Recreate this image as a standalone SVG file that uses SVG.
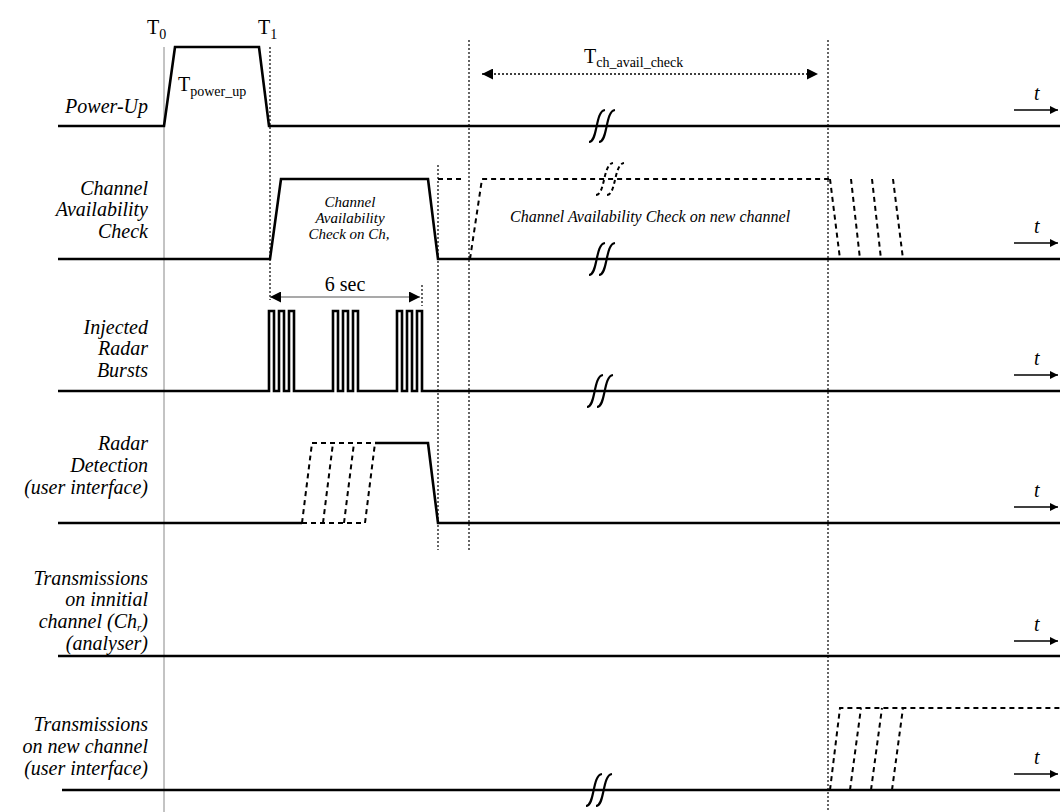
<svg xmlns="http://www.w3.org/2000/svg" width="1060" height="812" viewBox="0 0 1060 812">
<defs>
<marker id="ah" viewBox="0 0 10 10" refX="10" refY="5" markerWidth="10" markerHeight="8" markerUnits="userSpaceOnUse" orient="auto-start-reverse"><path d="M0,0 L10,5 L0,10 z" fill="#000"/></marker>
<marker id="ahb" viewBox="0 0 10 10" refX="10" refY="5" markerWidth="16" markerHeight="11" markerUnits="userSpaceOnUse" orient="auto-start-reverse"><path d="M0,0 L10,5 L0,10 z" fill="#000"/></marker>
<style>
.sig{fill:none;stroke:#000;stroke-width:2.6;stroke-linejoin:miter}
.dsh{fill:none;stroke:#000;stroke-width:2;stroke-dasharray:5,4}
.vdot{fill:none;stroke:#000;stroke-width:1.2;stroke-dasharray:2,2}
.brk{fill:none;stroke:#000;stroke-width:2.2}
.brkd{fill:none;stroke:#000;stroke-width:2;stroke-dasharray:4,3}
.lab{font-family:"Liberation Serif","Times New Roman",serif;font-style:italic;font-size:20px;text-anchor:end;fill:#000}
.in{font-family:"Liberation Serif","Times New Roman",serif;font-style:italic;font-size:15px;fill:#000}
.in2{font-family:"Liberation Serif","Times New Roman",serif;font-style:italic;font-size:16px;fill:#000}
.tm{font-family:"Liberation Serif","Times New Roman",serif;font-size:20px;fill:#000}
.t{font-family:"Liberation Serif","Times New Roman",serif;font-style:italic;font-size:20px;fill:#000}
.ax{stroke:#000;stroke-width:1.3;fill:none}
</style>
</defs>
<rect width="1060" height="812" fill="#fff"/>

<g id="guides">
<line x1="164" y1="47" x2="164" y2="812" stroke="#888" stroke-width="1"/>
<line class="vdot" x1="270" y1="47" x2="270" y2="300"/>
<line class="vdot" x1="438" y1="165" x2="438" y2="550"/>
<line class="vdot" x1="469" y1="40" x2="469" y2="550"/>
<line class="vdot" x1="828" y1="40" x2="828" y2="812"/>
<line class="vdot" x1="422" y1="285" x2="422" y2="306"/>
</g>

<g id="timelabels">
<text class="tm" x="147" y="34">T<tspan font-size="14" dy="5">0</tspan></text>
<text class="tm" x="258" y="34">T<tspan font-size="14" dy="5">1</tspan></text>
<text class="tm" x="178" y="91">T<tspan font-size="14" dy="5">power_up</tspan></text>
<text class="tm" x="584" y="63">T<tspan font-size="14" dy="4">ch_avail_check</tspan></text>
<text class="tm" x="345" y="291" text-anchor="middle">6 sec</text>
</g>

<g id="connectors">
<line x1="482" y1="74" x2="818" y2="74" stroke="#000" stroke-width="1.3" stroke-dasharray="2,2" marker-start="url(#ahb)" marker-end="url(#ahb)"/>
<line x1="270" y1="297" x2="420" y2="297" stroke="#555" stroke-width="1.2" marker-start="url(#ahb)" marker-end="url(#ahb)"/>
</g>

<g id="power-up">
<text class="lab" x="148" y="113">Power-Up</text>
<path class="sig" d="M58,126 H164 L175,47 H259 L269,126 H1060"/>
<path class="brk" d="M589,142 C598,142 595,111 605,110 M599,142 C608,142 605,111 615,110"/>
<line class="ax" x1="1014" y1="110" x2="1058" y2="110" marker-end="url(#ah)"/>
<text class="t" x="1034" y="100">t</text>
</g>

<g id="channel-availability-check">
<text class="lab" x="148" y="195">Channel</text>
<text class="lab" x="148" y="216">Availability</text>
<text class="lab" x="148" y="238">Check</text>
<path class="sig" d="M58,259 H270 L281,179 H428 L438,259 H1060"/>
<path class="dsh" d="M438,179 H462"/>
<path class="dsh" d="M470,259 L482,179 H830"/>
<path class="dsh" d="M830,179 L840,259 M851,179 L860,259 M872,179 L881,259 M893,179 L903,259"/>
<path class="brkd" d="M596,195 C605,195 603,164 613,163 M607,195 C616,195 614,164 624,163"/>
<path class="brk" d="M589,275 C598,275 595,244 605,243 M599,275 C608,275 605,244 615,243"/>
<text class="in" text-anchor="middle" x="350" y="207">Channel</text>
<text class="in" text-anchor="middle" x="350" y="223">Availability</text>
<text class="in" text-anchor="middle" x="349" y="239">Check on Ch,</text>
<text class="in2" x="510" y="222">Channel  Availability Check on new channel</text>
<line class="ax" x1="1014" y1="243" x2="1058" y2="243" marker-end="url(#ah)"/>
<text class="t" x="1034" y="233">t</text>
</g>

<g id="injected-radar-bursts">
<text class="lab" x="148" y="334">Injected</text>
<text class="lab" x="148" y="355">Radar</text>
<text class="lab" x="148" y="377">Bursts</text>
<path class="sig" d="M58,391 H269 V311 H274 V391 H279 V311 H284 V391 H289 V311 H294 V391 H333 V311 H338 V391 H343 V311 H348 V391 H353 V311 H358 V391 H397 V311 H402 V391 H407 V311 H412 V391 H417 V311 H422 V391 H1060"/>
<path class="brk" d="M587,407 C596,407 593,376 603,375 M597,407 C606,407 603,376 613,375"/>
<line class="ax" x1="1014" y1="375" x2="1058" y2="375" marker-end="url(#ah)"/>
<text class="t" x="1034" y="365">t</text>
</g>

<g id="radar-detection">
<text class="lab" x="148" y="450">Radar</text>
<text class="lab" x="148" y="472">Detection</text>
<text class="lab" x="148" y="494">(user interface)</text>
<path class="sig" d="M58,523 H302"/>
<path class="sig" d="M375,443 H428 L438,523 H1060"/>
<path class="dsh" d="M302,523 H365 M312,443 H375 M302,523 L312,443 M323,523 L333,443 M344,523 L354,443 M365,523 L375,443"/>
<line class="ax" x1="1014" y1="507" x2="1058" y2="507" marker-end="url(#ah)"/>
<text class="t" x="1034" y="497">t</text>
</g>

<g id="transmissions-initial">
<text class="lab" x="148" y="585">Transmissions</text>
<text class="lab" x="148" y="606">on innitial</text>
<text class="lab" x="148" y="628">channel (Ch<tspan font-size="11" dy="3">r</tspan><tspan dy="-3">)</tspan></text>
<text class="lab" x="148" y="650">(analyser)</text>
<path class="sig" d="M58,656 H1060"/>
<line class="ax" x1="1014" y1="641" x2="1058" y2="641" marker-end="url(#ah)"/>
<text class="t" x="1034" y="631">t</text>
</g>

<g id="transmissions-new">
<text class="lab" x="148" y="731">Transmissions</text>
<text class="lab" x="148" y="753">on  new channel</text>
<text class="lab" x="148" y="775">(user interface)</text>
<path class="sig" d="M62,790 H1060"/>
<path class="dsh" d="M830,790 L840,708 H1060 M850,790 L861,708 M871,790 L882,708 M892,790 L903,708"/>
<path class="brk" d="M586,806 C595,806 592,775 602,774 M596,806 C605,806 602,775 612,774"/>
<line class="ax" x1="1014" y1="774" x2="1058" y2="774" marker-end="url(#ah)"/>
<text class="t" x="1034" y="764">t</text>
</g>
</svg>
